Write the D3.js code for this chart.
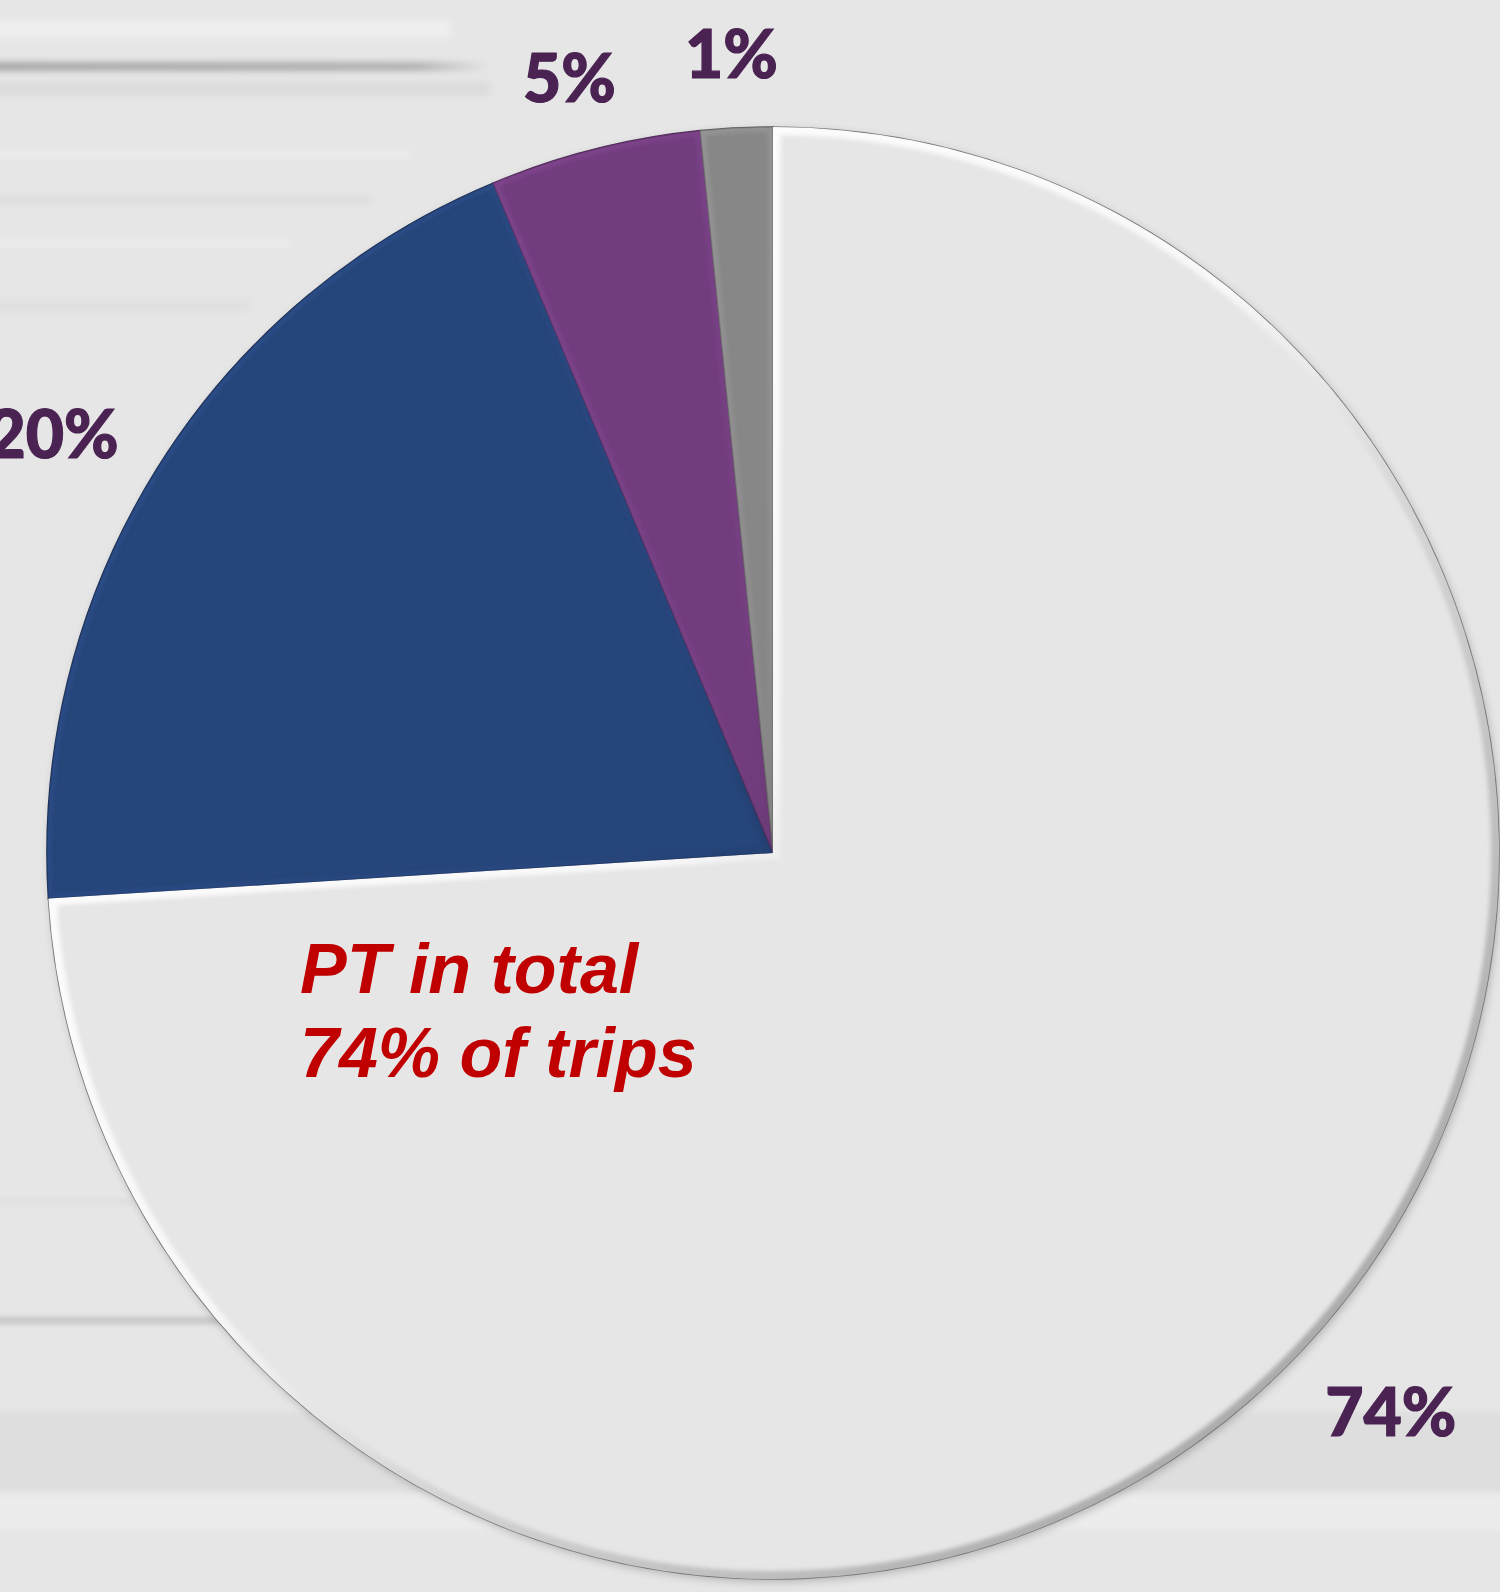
<!DOCTYPE html>
<html>
<head>
<meta charset="utf-8">
<script src="https://cdn.jsdelivr.net/npm/d3@7"></script>
<style>
  html, body { margin: 0; padding: 0; background: #e6e6e6; }
  svg { display: block; }
</style>
</head>
<body>
<div id="chart"></div>
<script>
// Slice data (clockwise from 12 o'clock)
const categories = ["PT", "Car", "Walk", "Other"];
const shares = [74.0, 19.7, 4.7, 1.6];
const labels = ["74%", "20%", "5%", "1%"];
const colors = ["#e6e6e6", "#284479", "#723e7e", "#878787"];
const calloutLines = ["PT in total", "74% of trips"];

const width = 1500, height = 1592;
const cx = 773, cy = 853, R = 726;

const svg = d3.select("#chart").append("svg")
  .attr("width", width)
  .attr("height", height);

const defs = svg.append("defs");

// background: light grey with a few blurred streaks
const blur = defs.append("filter").attr("id", "blur")
  .attr("x", "-20%").attr("y", "-200%").attr("width", "140%").attr("height", "500%");
blur.append("feGaussianBlur").attr("stdDeviation", 3);

const fade = defs.append("linearGradient").attr("id", "fade");
fade.append("stop").attr("offset", "0%").attr("stop-color", "#a8a8a8");
fade.append("stop").attr("offset", "85%").attr("stop-color", "#b0b0b0");
fade.append("stop").attr("offset", "100%").attr("stop-color", "#e6e6e6");

svg.append("rect").attr("width", width).attr("height", height).attr("fill", "#e6e6e6");
const bg = svg.append("g").attr("filter", "url(#blur)");
bg.append("rect").attr("x", -10).attr("y", 20).attr("width", 460).attr("height", 18).attr("fill", "#efefef");
bg.append("rect").attr("x", -10).attr("y", 62).attr("width", 500).attr("height", 9).attr("fill", "url(#fade)");
bg.append("rect").attr("x", -10).attr("y", 82).attr("width", 500).attr("height", 14).attr("fill", "#dcdcdc");
bg.append("rect").attr("x", -10).attr("y", 150).attr("width", 420).attr("height", 8).attr("fill", "#ececec");
bg.append("rect").attr("x", -10).attr("y", 195).attr("width", 380).attr("height", 10).attr("fill", "#dfdfdf");
bg.append("rect").attr("x", -10).attr("y", 240).attr("width", 300).attr("height", 6).attr("fill", "#ededed");
bg.append("rect").attr("x", -10).attr("y", 300).attr("width", 260).attr("height", 12).attr("fill", "#e0e0e0");
bg.append("rect").attr("x", -10).attr("y", 1200).attr("width", 200).attr("height", 3).attr("fill", "#d8d8d8");
bg.append("rect").attr("x", -10).attr("y", 1319).attr("width", 240).attr("height", 3).attr("fill", "#9a9a9a");
bg.append("rect").attr("x", -10).attr("y", 1412).attr("width", 1520).attr("height", 80).attr("fill", "#dedede");
bg.append("rect").attr("x", -10).attr("y", 1494).attr("width", 1520).attr("height", 36).attr("fill", "#ececec");

// pie
const pie = d3.pie().sort(null).value(d => d).startAngle(0).endAngle(2 * Math.PI);
const arcs = pie(shares);
const arc = d3.arc().innerRadius(0).outerRadius(R);

// bevel gradients: light top-left, dark bottom-right (coords relative to pie centre)
function bevel(id, c, i) {
  const g = defs.append("linearGradient").attr("id", id)
    .attr("gradientUnits", "userSpaceOnUse")
    .attr("x1", -R * 0.8).attr("y1", -R * 0.8).attr("x2", R * 0.8).attr("y2", R * 0.8);
  const base = d3.color(c);
  if (i === 0) {
    g.append("stop").attr("offset", "0%").attr("stop-color", "#ffffff");
    g.append("stop").attr("offset", "45%").attr("stop-color", "#f8f8f8");
    g.append("stop").attr("offset", "62%").attr("stop-color", "#d6d6d6");
    g.append("stop").attr("offset", "100%").attr("stop-color", "#a4a4a4");
  } else {
    g.append("stop").attr("offset", "0%").attr("stop-color", base.brighter(0.7));
    g.append("stop").attr("offset", "40%").attr("stop-color", base.brighter(0.3));
    g.append("stop").attr("offset", "55%").attr("stop-color", base.darker(0.6));
    g.append("stop").attr("offset", "100%").attr("stop-color", base.darker(0.8));
  }
}
colors.forEach((c, i) => bevel("bev" + i, c, i));

const shadow = defs.append("filter").attr("id", "shadow")
  .attr("x", "-10%").attr("y", "-10%").attr("width", "120%").attr("height", "120%");
shadow.append("feDropShadow").attr("dx", 2).attr("dy", 3).attr("stdDeviation", 4)
  .attr("flood-color", "#000").attr("flood-opacity", 0.22);

const soft = defs.append("filter").attr("id", "soft");
soft.append("feGaussianBlur").attr("stdDeviation", 2);

const pieG = svg.append("g").attr("transform", `translate(${cx},${cy})`);

arcs.forEach((d, i) => {
  const clipId = "clip" + i;
  defs.append("clipPath").attr("id", clipId)
    .append("path").attr("d", arc(d)).attr("transform", `translate(${cx},${cy})`);

  pieG.append("path")
    .attr("d", arc(d))
    .attr("fill", colors[i])
    .attr("filter", "url(#shadow)");

  // inner bevel band
  svg.append("g").attr("clip-path", `url(#${clipId})`)
    .append("path")
    .attr("transform", `translate(${cx},${cy})`)
    .attr("d", arc(d))
    .attr("fill", "none")
    .attr("stroke", `url(#bev${i})`)
    .attr("stroke-width", i === 0 ? 16 : 10)
    .attr("stroke-linejoin", "miter")
    .attr("opacity", i === 0 ? 1 : 0.45)
    .attr("filter", "url(#soft)");

  pieG.append("path")
    .attr("d", arc(d))
    .attr("fill", "none")
    .attr("stroke", i === 0 ? "#7a7a7a" : d3.color(colors[i]).darker(1))
    .attr("stroke-width", 1.6);
});

// percentage labels, placed just outside each slice
const gap = 56, capH = 49;
const lab = svg.append("g")
  .style("font-family", "Lato, 'Open Sans', sans-serif")
  .style("font-weight", 900)
  .style("font-size", "66px")
  .attr("fill", "#4a2352")
  .attr("stroke", "#4a2352")
  .attr("stroke-width", 1.2);

arcs.forEach((d, i) => {
  const a = (d.startAngle + d.endAngle) / 2;
  const t = lab.append("text").attr("text-anchor", "middle").text(labels[i]);
  const w = t.node().getBBox().width;
  const px = cx + Math.sin(a) * (R + gap + w / 2);
  const py = cy - Math.cos(a) * (R + gap + capH / 2);
  t.attr("x", px).attr("y", py + capH / 2 + 6);
});

// callout text
const call = svg.append("g")
  .style("font-family", "'Liberation Sans', Arial, sans-serif")
  .style("font-weight", 700)
  .style("font-style", "italic")
  .style("font-size", "70px")
  .attr("fill", "#c00000");
calloutLines.forEach((s, i) => {
  call.append("text").attr("x", 300).attr("y", 993 + i * 84).text(s);
});
</script>
</body>
</html>
